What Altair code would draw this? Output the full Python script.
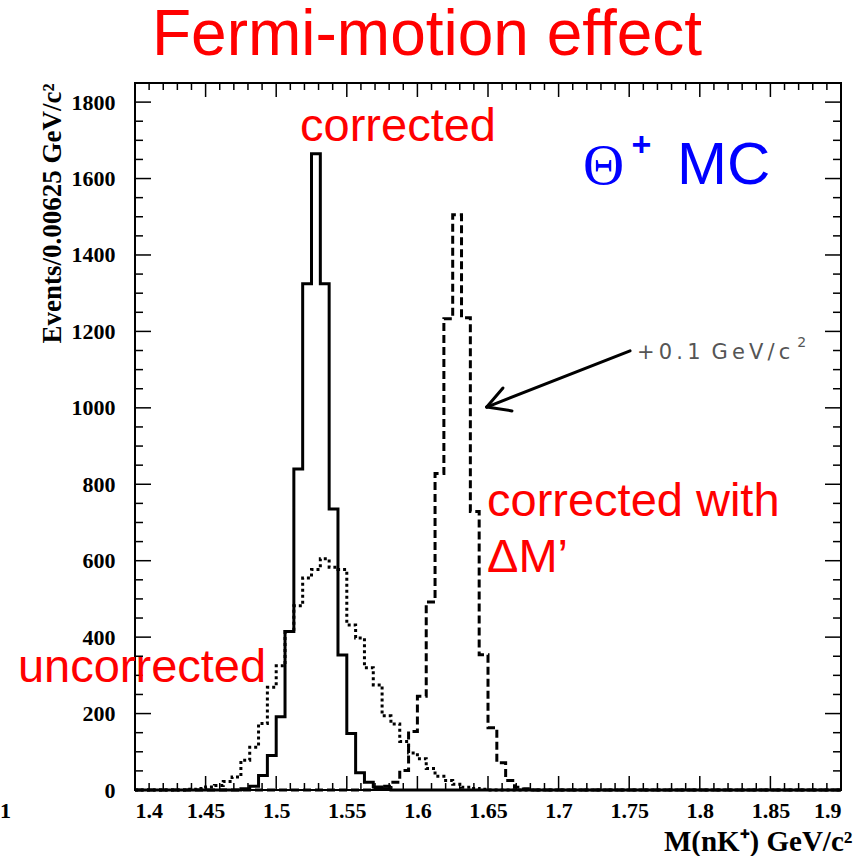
import altair as alt
import numpy as np
import pandas as pd

# ---------------- data ----------------
BIN_START = 1.4
BIN_WIDTH = 0.00625
N_BINS = 80

# solid: corrected
corrected_first_bin = 12
corrected_counts = [3, 10, 38, 90, 192, 415, 840, 1325, 1665, 1325, 735, 353, 148, 45, 20, 8, 3]
# dotted: uncorrected
uncorrected_first_bin = 6
uncorrected_counts = [2, 4, 8, 12, 22, 34, 78, 112, 174, 269, 325, 415, 482, 555, 577, 605,
                      583, 577, 432, 398, 320, 275, 194, 173, 127, 97, 82, 56, 36, 25, 15, 7, 4, 2]
# dashed: corrected with dM' (+0.1 GeV/c^2)
shifted_first_bin = 27
shifted_counts = [4, 10, 20, 51, 153, 245, 492, 828, 1233, 1505, 1236, 729, 354, 163, 71, 25, 7, 3]

X_DOMAIN = [1.4, 1.9]
Y_DOMAIN = [0, 1850]
x_major = [1.4, 1.45, 1.5, 1.55, 1.6, 1.65, 1.7, 1.75, 1.8, 1.85, 1.9]
y_major = [0, 200, 400, 600, 800, 1000, 1200, 1400, 1600, 1800]

label_texts = ["corrected", "corrected with", "ΔM’", "uncorrected"]
label_m = [1.5169, 1.6493, 1.6493, 1.3171]
label_events = [1698, 717, 570, 283]

arrow_m = [1.7506, 1.6491, 1.6491]
arrow_events = [1149, 1002, 1002]
arrow_m2 = [1.6491, 1.6606, 1.6670]
arrow_events2 = [1002, 1052, 992]

W, H = 706, 707


def step_frame(first, counts):
    full = [0] * N_BINS
    full[first:first + len(counts)] = counts
    edges = [round(BIN_START + i * BIN_WIDTH, 6) for i in range(N_BINS + 1)]
    return pd.DataFrame({"m": edges, "events": full + [full[-1]]})


xs = alt.Scale(domain=X_DOMAIN, nice=False, zero=False)
ys = alt.Scale(domain=Y_DOMAIN, nice=False)

x_axis = alt.Axis(values=x_major, format="~g", title="M(nK⁺) GeV/c²",
                  labelFont="Liberation Serif", labelFontWeight="bold", labelFontSize=22,
                  labelPadding=10, labelColor="black",
                  titleFont="Liberation Serif", titleFontWeight="bold", titleFontSize=29,
                  titleX=717, titleY=60, titleAlign="right", titleBaseline="alphabetic",
                  titleColor="black")
y_axis = alt.Axis(values=y_major, format="d", title="Events/0.00625 GeV/c²",
                  labelFont="Liberation Serif", labelFontWeight="bold", labelFontSize=22,
                  labelPadding=20, labelColor="black",
                  titleFont="Liberation Serif", titleFontWeight="bold", titleFontSize=27,
                  titleAngle=270, titleX=-75, titleY=0, titleAlign="right",
                  titleBaseline="alphabetic", titleColor="black")

X = lambda f="m:Q": alt.X(f, scale=xs, axis=x_axis)
Y = lambda f="events:Q": alt.Y(f, scale=ys, axis=y_axis)


def hist(first, counts, dash=None):
    kw = dict(interpolate="step-after", color="black", strokeWidth=3,
              strokeJoin="miter", strokeCap="butt")
    if dash is not None:
        kw["strokeDash"] = dash
    return alt.Chart(step_frame(first, counts)).mark_line(**kw).encode(x=X(), y=Y())


solid = hist(corrected_first_bin, corrected_counts)
dotted = hist(uncorrected_first_bin, uncorrected_counts, dash=[3, 3])
dashed = hist(shifted_first_bin, shifted_counts, dash=[8, 4])

# ----- ticks (inside frame, all four sides) -----
x_minor = [v for v in np.round(np.arange(1.4, 1.9001, 0.01), 4) if round(v * 20, 6) % 1 != 0]
y_minor = [v for v in range(0, 1801, 50) if v % 200 != 0]


def xticks(vals, length, bottom=True):
    df = pd.DataFrame({"m": vals})
    if bottom:
        enc = dict(y=alt.value(H), y2=alt.value(H - length))
    else:
        enc = dict(y=alt.value(0), y2=alt.value(length))
    return alt.Chart(df).mark_rule(color="black", strokeWidth=1.5).encode(x=X(), **enc)


def yticks(vals, length, left=True):
    df = pd.DataFrame({"events": vals})
    if left:
        enc = dict(x=alt.value(0), x2=alt.value(length))
    else:
        enc = dict(x=alt.value(W), x2=alt.value(W - length))
    return alt.Chart(df).mark_rule(color="black", strokeWidth=1.5).encode(y=Y(), **enc)


ticks = [xticks(x_major, 14), xticks(x_minor, 7), xticks(x_major, 14, False), xticks(x_minor, 7, False),
         yticks(y_major, 16), yticks(y_minor, 8), yticks(y_major, 16, False), yticks(y_minor, 8, False)]

# ----- annotations -----
labels = alt.Chart(pd.DataFrame({"m": label_m, "events": label_events, "t": label_texts})).mark_text(
    font="Liberation Sans", fontSize=47, color="#ff0000", align="left", baseline="alphabetic"
).encode(x=X(), y=Y(), text="t:N")


def one_text(text, m, ev, **kw):
    return alt.Chart(pd.DataFrame({"m": [m], "events": [ev], "t": [text]})).mark_text(
        align="left", baseline="alphabetic", **kw
    ).encode(x=X(), y=Y(), text="t:N")


theta = one_text("Θ", 1.7172, 1586, font="Liberation Serif", fontSize=57, color="#0000ff")
plus = one_text("+", 1.7516, 1660, font="Liberation Sans", fontSize=34, fontWeight="bold", color="#0000ff")
mc = one_text("MC", 1.7839, 1586, font="Liberation Sans", fontSize=60, color="#0000ff")
shift_note = one_text("+\u20090\u2009.\u20091\u2009 G\u2009e\u2009V\u2009/\u2009c", 1.7555, 1128,
                      font="DejaVu Sans", fontSize=21, color="#555555")
shift_sup = one_text("2", 1.8690, 1158, font="DejaVu Sans", fontSize=14, color="#555555")
fragment = one_text("1", 1.3044, -73, font="Liberation Serif", fontSize=22, fontWeight="bold", color="black")

title = alt.Chart(pd.DataFrame({"t": ["Fermi-motion effect"]})).mark_text(
    font="Liberation Sans", fontSize=64, color="#ff0000", align="left", baseline="alphabetic"
).encode(x=alt.value(17), y=alt.value(-28), text="t:N")

arrow = alt.Chart(pd.DataFrame({"m": arrow_m, "events": arrow_events,
                                "m2": arrow_m2, "events2": arrow_events2})).mark_rule(
    color="black", strokeWidth=3, strokeCap="round"
).encode(x=X(), y=Y(), x2="m2:Q", y2="events2:Q")

chart = alt.layer(
    solid, dotted, dashed, *ticks, labels, theta, plus, mc, shift_note, shift_sup, fragment, arrow, title
).properties(
    width=W, height=H,
    autosize=alt.AutoSizeParams(type="none"),
    padding={"left": 135, "top": 83, "right": 21, "bottom": 66},
    background="white",
).configure_view(stroke="black", strokeWidth=2).configure_axis(
    domain=False, ticks=False, grid=False
)

chart.save("out.html", embed_options={"renderer": "svg", "actions": False})
